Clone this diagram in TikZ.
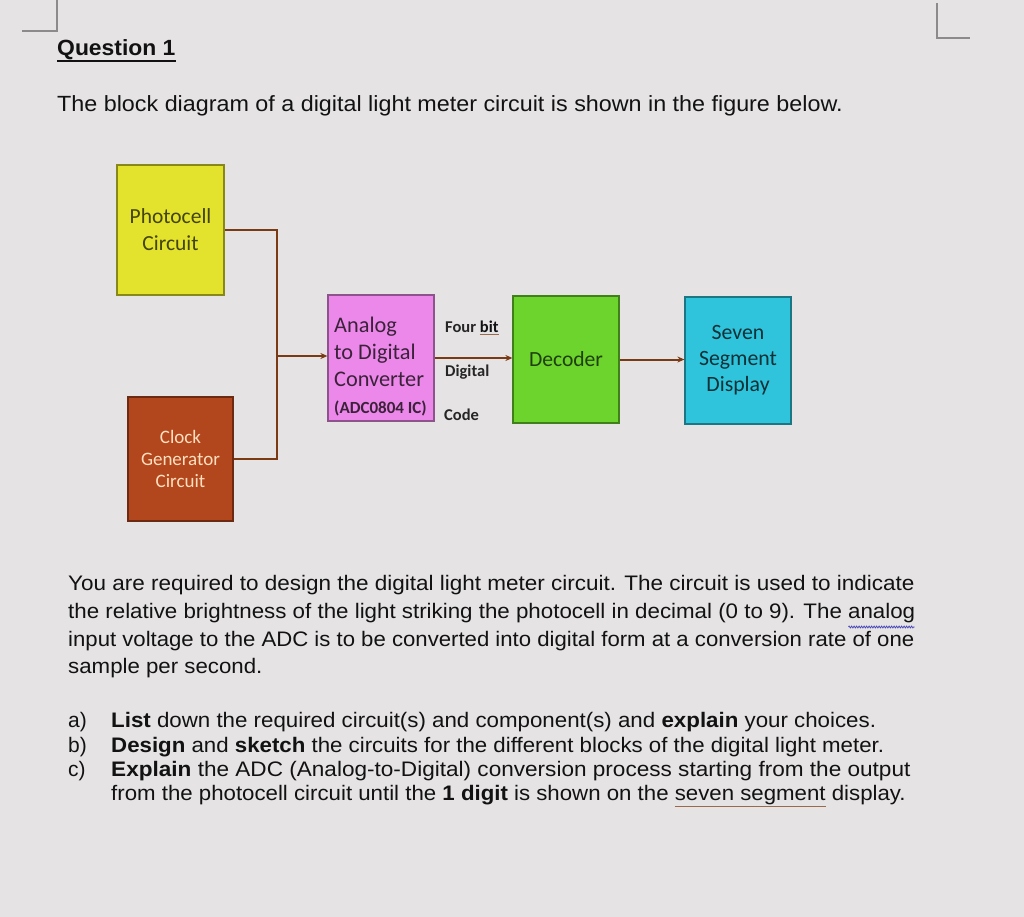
\documentclass[tikz,border=0pt]{standalone}
\usepackage{fontspec}
\setmainfont{Liberation Sans}
\newfontfamily\calfont{Carlito}
\usetikzlibrary{arrows.meta,decorations.pathmorphing}
\definecolor{bgcol}{HTML}{E5E3E3}
\definecolor{wirecol}{HTML}{7A3A14}
\definecolor{yelfill}{HTML}{E3E22C}
\definecolor{brnfill}{HTML}{B2461C}
\definecolor{pnkfill}{HTML}{EC88EA}
\definecolor{grnfill}{HTML}{6CD42C}
\definecolor{cyafill}{HTML}{30C4DC}
\definecolor{txtcol}{HTML}{121212}
\definecolor{markcol}{HTML}{8C8A8A}
\definecolor{spellcol}{HTML}{9A6A4A}
\newcommand{\wline}[2]{\scalebox{#1}[1]{#2}}
\newcommand{\spellul}[1]{{\color{spellcol}\underline{\color{txtcol}#1}}}
\tikzset{
  blockbox/.style={draw=#1!60!black, line width=1.2pt, minimum width=106pt, inner sep=0pt, align=center},
  wire/.style={draw=wirecol, line width=2pt},
  arrowwire/.style={wire, -{Stealth[length=7pt,width=6pt]}},
  bodytext/.style={anchor=base west, inner sep=0pt, text=txtcol, font=\fontsize{21}{25}\selectfont},
  sidelabel/.style={anchor=west, inner sep=0pt, text=black!85, font=\calfont\bfseries\fontsize{16.5}{19}\selectfont},
}
\begin{document}
\begin{tikzpicture}[x=1pt,y=-1pt]
\fill[bgcol] (0,0) rectangle (1024,917);
\useasboundingbox (0,0) rectangle (1024,917);
% corner marks
\draw[markcol, line width=1.3pt] (57,0) -- (57,31) -- (22,31);
\draw[markcol, line width=1.3pt] (937,3) -- (937,38) -- (970,38);
% heading
\node[bodytext, font=\bfseries\fontsize{22}{26}\selectfont] (q1) at (57,56) {\wline{1.04}{Question 1}};
\draw[txtcol, line width=2.6pt] (q1.south west |- 0,61) -- (q1.south east |- 0,61);
\node[bodytext, font=\fontsize{22}{26}\selectfont] (intro) at (57,112) {\wline{1.06}{The block diagram of a digital light meter circuit is shown in the figure below.}};
% blocks
\node[blockbox=yelfill, fill=yelfill, minimum width=107pt, minimum height=130pt, text=yelfill!30!black,
      font=\calfont\fontsize{21.5}{27}\selectfont] (photo) at (170.5,230) {Photocell\\Circuit};
\node[blockbox=brnfill, fill=brnfill, minimum width=105pt, minimum height=124pt, text=orange!25!white,
      font=\calfont\fontsize{19}{22}\selectfont] (clock) at (180.5,459) {Clock\\Generator\\Circuit};
\node[blockbox=pnkfill, fill=pnkfill, minimum height=126pt] (adc) at (381,358) {};
\node[anchor=north west, inner sep=0pt, align=left, text=pnkfill!25!black,
      font=\calfont\fontsize{22.3}{27}\selectfont] (adctext) at (334,317)
      {Analog\\to Digital\\Converter\\{\bfseries\fontsize{17}{18}\selectfont (ADC0804 IC)}};
\node[blockbox=grnfill, fill=grnfill, minimum height=127pt, text=grnfill!30!black,
      font=\calfont\fontsize{21.6}{26}\selectfont] (dec) at (566,359.5) {Decoder};
\node[blockbox=cyafill, fill=cyafill, minimum height=127pt, text=cyafill!25!black,
      font=\calfont\fontsize{21.8}{26}\selectfont] (seg) at (738,360.5) {Seven\\Segment\\Display};
% connectors
\coordinate (jn) at (277,356);
\draw[wire] (photo.east) -| (jn);
\draw[wire] (clock.east) -| (jn);
\draw[arrowwire] (jn) -- (jn -| adc.west);
\draw[arrowwire] (adc.east) -- (adc.east -| dec.west);
\draw[arrowwire] (dec.east) -- (dec.east -| seg.west);
% side labels
\node[sidelabel] (fourbit) at (445,328) {Four \spellul{bit}};
\node[sidelabel] (digital) at (445,372) {Digital};
\node[sidelabel] (code) at (444,415) {Code};
% paragraph
\node[bodytext] (p1) at (68,590) {\wline{1.071}{You are required to design the digital light meter circuit. The circuit is used to indicate}};
\node[bodytext] (p2) at (68,618) {\wline{1.063}{the relative brightness of the light striking the photocell in decimal (0 to 9). The analog}};
\draw[blue!45!gray, line width=0.8pt, decorate, decoration={zigzag,segment length=2.5pt,amplitude=0.9pt}]
  (p2.base east) ++(-67,9) -- ++(66,0);
\node[bodytext] (p3) at (68,646) {\wline{1.055}{input voltage to the ADC is to be converted into digital form at a conversion rate of one}};
\node[bodytext] (p4) at (68,673) {\wline{1.06}{sample per second.}};
% list
\node[bodytext] (la) at (68,727) {a)};
\node[bodytext] (ta) at (111,727) {\wline{1.062}{\textbf{List} down the required circuit(s) and component(s) and \textbf{explain} your choices.}};
\node[bodytext] (lb) at (68,752) {b)};
\node[bodytext] (tb) at (111,752) {\wline{1.06}{\textbf{Design} and \textbf{sketch} the circuits for the different blocks of the digital light meter.}};
\node[bodytext] (lc) at (68,776) {c)};
\node[bodytext] (tc) at (111,776) {\wline{1.075}{\textbf{Explain} the ADC (Analog-to-Digital) conversion process starting from the output}};
\node[bodytext] (td) at (111,800) {\wline{1.059}{from the photocell circuit until the \textbf{1 digit} is shown on the \spellul{seven segment} display.}};
\end{tikzpicture}
\end{document}
